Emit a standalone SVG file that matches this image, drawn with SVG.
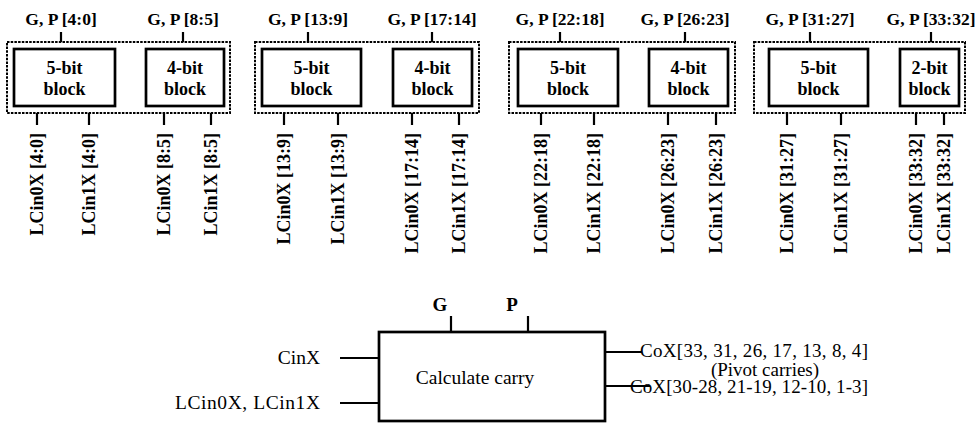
<svg xmlns="http://www.w3.org/2000/svg" width="980" height="423" viewBox="0 0 980 423" font-family="'Liberation Serif', 'Times New Roman', 'DejaVu Serif', serif">
<style>
text{font-family:'Liberation Serif','Times New Roman','DejaVu Serif',serif;fill:#000}
.gp{font-size:17.5px;font-weight:bold;text-anchor:middle}
.bt{font-size:18px;font-weight:bold;text-anchor:middle}
.lc{font-size:18px;font-weight:bold;text-anchor:end}
.rg{font-size:19.5px}
.co{font-size:19px}
.grp{fill:none;stroke:#000;stroke-width:2;stroke-dasharray:2.5 1.2}
.blk{fill:#fff;stroke:#000;stroke-width:2.7}
.ln{stroke:#000;stroke-width:2.2;fill:none}
</style>
<rect width="980" height="423" fill="#fff"/>

<g id="group1">
<rect class="grp" x="7" y="42" width="223" height="71"/>
<g id="blk-4-0"><rect class="blk" x="14" y="49" width="101" height="57"/><text class="bt" x="64.5" y="74">5-bit</text><text class="bt" x="64.5" y="95">block</text></g>
<g id="blk-8-5"><rect class="blk" x="146" y="49" width="78" height="57"/><text class="bt" x="185" y="74">4-bit</text><text class="bt" x="185" y="95">block</text></g>
<text class="gp" x="61" y="25">G, P [4:0]</text>
<text class="gp" x="183" y="25">G, P [8:5]</text>
<text class="lc" transform="translate(43,133) rotate(-90)">LCin0X [4:0]</text>
<text class="lc" transform="translate(95,133) rotate(-90)">LCin1X [4:0]</text>
<text class="lc" transform="translate(170,133) rotate(-90)">LCin0X [8:5]</text>
<text class="lc" transform="translate(217,133) rotate(-90)">LCin1X [8:5]</text>
</g>

<g id="group2">
<rect class="grp" x="255" y="42" width="224" height="71"/>
<g id="blk-13-9"><rect class="blk" x="262" y="49" width="99" height="57"/><text class="bt" x="311.5" y="74">5-bit</text><text class="bt" x="311.5" y="95">block</text></g>
<g id="blk-17-14"><rect class="blk" x="393" y="49" width="79" height="57"/><text class="bt" x="432.5" y="74">4-bit</text><text class="bt" x="432.5" y="95">block</text></g>
<text class="gp" x="308" y="25">G, P [13:9]</text>
<text class="gp" x="432" y="25">G, P [17:14]</text>
<text class="lc" transform="translate(290,133) rotate(-90)">LCin0X [13:9]</text>
<text class="lc" transform="translate(344,133) rotate(-90)">LCin1X [13:9]</text>
<text class="lc" transform="translate(418,133) rotate(-90)">LCin0X [17:14]</text>
<text class="lc" transform="translate(465,133) rotate(-90)">LCin1X [17:14]</text>
</g>

<g id="group3">
<rect class="grp" x="509" y="42" width="226" height="71"/>
<g id="blk-22-18"><rect class="blk" x="518" y="49" width="100" height="57"/><text class="bt" x="568" y="74">5-bit</text><text class="bt" x="568" y="95">block</text></g>
<g id="blk-26-23"><rect class="blk" x="649" y="49" width="79" height="57"/><text class="bt" x="688.5" y="74">4-bit</text><text class="bt" x="688.5" y="95">block</text></g>
<text class="gp" x="560" y="25">G, P [22:18]</text>
<text class="gp" x="685" y="25">G, P [26:23]</text>
<text class="lc" transform="translate(547,133) rotate(-90)">LCin0X [22:18]</text>
<text class="lc" transform="translate(600,133) rotate(-90)">LCin1X [22:18]</text>
<text class="lc" transform="translate(674,133) rotate(-90)">LCin0X [26:23]</text>
<text class="lc" transform="translate(722,133) rotate(-90)">LCin1X [26:23]</text>
</g>

<g id="group4">
<rect class="grp" x="754" y="42" width="211" height="71"/>
<g id="blk-31-27"><rect class="blk" x="769" y="49" width="99" height="57"/><text class="bt" x="818.5" y="74">5-bit</text><text class="bt" x="818.5" y="95">block</text></g>
<g id="blk-33-32"><rect class="blk" x="900" y="49" width="59" height="57"/><text class="bt" x="929.5" y="74">2-bit</text><text class="bt" x="929.5" y="95">block</text></g>
<text class="gp" x="810" y="25">G, P [31:27]</text>
<text class="gp" x="931" y="25">G, P [33:32]</text>
<text class="lc" transform="translate(793,133) rotate(-90)">LCin0X [31:27]</text>
<text class="lc" transform="translate(847,133) rotate(-90)">LCin1X [31:27]</text>
<text class="lc" transform="translate(922,133) rotate(-90)">LCin0X [33:32]</text>
<text class="lc" transform="translate(950,133) rotate(-90)">LCin1X [33:32]</text>
</g>

<g id="calc">
<rect x="379" y="332" width="226" height="89" fill="#fff" stroke="#000" stroke-width="2.7"/>
<text class="rg" x="475" y="384" text-anchor="middle">Calculate carry</text>
</g>

<g id="io-labels">
<text x="440" y="311" font-size="19px" font-weight="bold" text-anchor="middle">G</text>
<text x="512" y="311" font-size="19px" font-weight="bold" text-anchor="middle">P</text>
<text class="rg" x="320" y="364" text-anchor="end">CinX</text>
<text class="rg" x="320" y="409" text-anchor="end" textLength="145">LCin0X, LCin1X</text>
<text class="co" x="640" y="357" textLength="228">CoX[33, 31, 26, 17, 13, 8, 4]</text>
<text class="co" x="765" y="375.5" text-anchor="middle">(Pivot carries)</text>
<text class="co" x="630" y="393" textLength="238">CoX[30-28, 21-19, 12-10, 1-3]</text>
</g>

<g id="connectors" class="ln">
<path d="M61 32V42M183 32V42M308 32V42M432 32V42M560 32V42M685 32V42M810 32V42M931 32V42"/>
<path d="M37 113V125M89 113V125M164 113V125M211 113V125M284 113V125M338 113V125M412 113V125M459 113V125M541 113V125M594 113V125M668 113V125M716 113V125M787 113V125M841 113V125M916 113V125M944 113V125"/>
<path d="M451 316V332M528 316V332"/>
<path d="M340 358H379M340 403H379"/>
<path d="M605 352H642M605 386H650"/>
</g>
</svg>
